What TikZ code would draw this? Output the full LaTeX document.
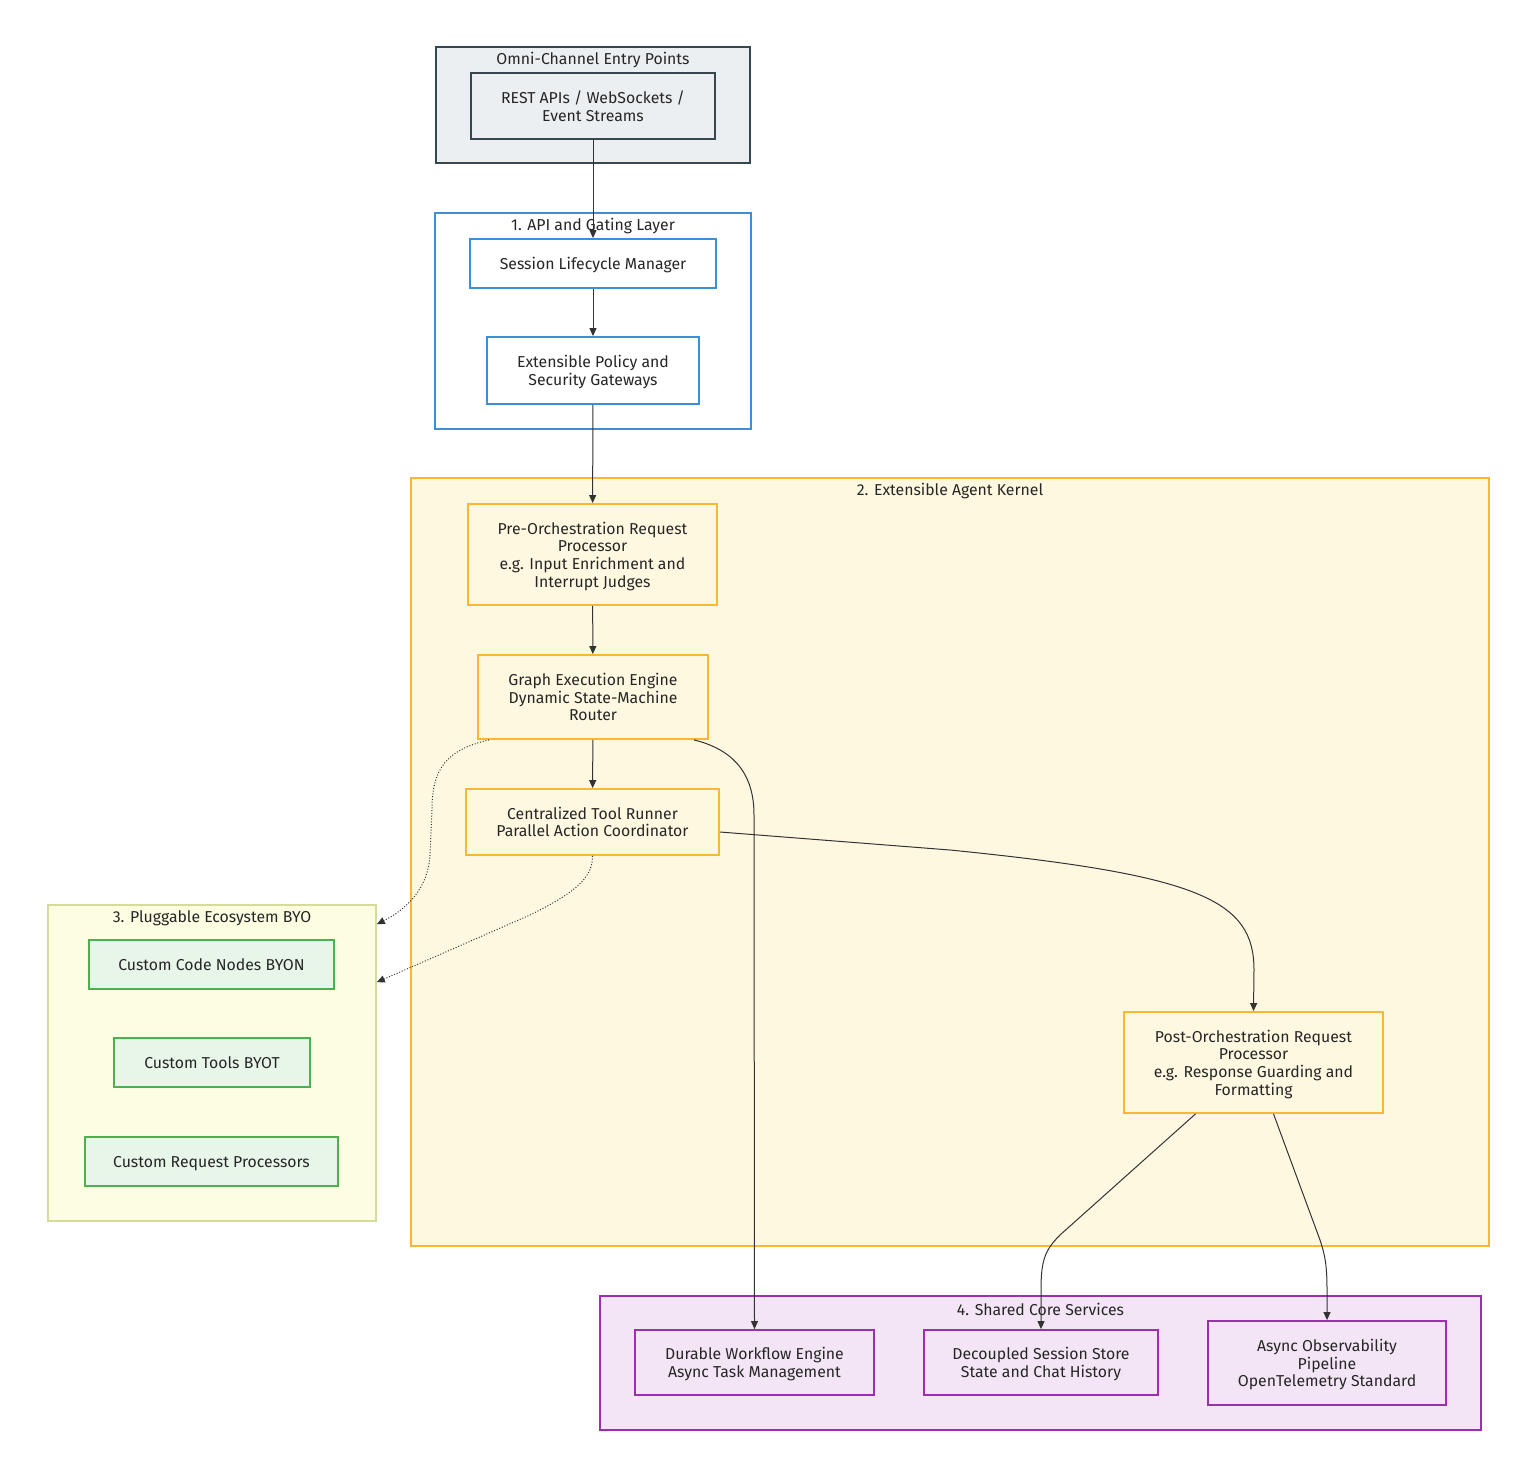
\documentclass[tikz,border=0pt]{standalone}
\usepackage{fontspec}
\setsansfont{Fira Sans}
\usepackage{tikz}
\usetikzlibrary{positioning,arrows.meta,shapes,calc}
\usepackage{xcolor}

\definecolor{edgegray}{HTML}{333333}
\definecolor{entryfill}{HTML}{ECEFF1}
\definecolor{entrydraw}{HTML}{37474F}
\definecolor{gatedraw}{HTML}{3A8FD6}
\definecolor{kernfill}{HTML}{FFF8E1}
\definecolor{kerndraw}{HTML}{F9B833}
\definecolor{byofill}{HTML}{FDFDE1}
\definecolor{byodraw}{HTML}{D6DB9C}
\definecolor{plugfill}{HTML}{E8F5E9}
\definecolor{plugdraw}{HTML}{4CAF50}
\definecolor{corefill}{HTML}{F3E5F5}
\definecolor{coredraw}{HTML}{9C2FAE}

\begin{document}
\begin{tikzpicture}[x=1pt, y=-1pt,
    txt/.style={font=\sffamily\fontsize{15.8}{17.6}\selectfont, text=black!85},
    group/.style={rectangle, line width=1.6pt, inner sep=0pt},
    entrygroup/.style={group, draw=entrydraw, fill=entryfill},
    gategroup/.style={group, draw=gatedraw, fill=white},
    kerngroup/.style={group, draw=kerndraw, fill=kernfill},
    byogroup/.style={group, draw=byodraw, fill=byofill},
    coregroup/.style={group, draw=coredraw, fill=corefill},
    title/.style={txt, inner sep=0pt},
    box/.style={txt, rectangle, line width=1.8pt, align=center, text depth=-2pt},
    entrybox/.style={box, draw=entrydraw, fill=entryfill},
    gatebox/.style={box, draw=gatedraw, fill=white},
    kernbox/.style={box, draw=kerndraw, fill=kernfill},
    plugbox/.style={box, draw=plugdraw, fill=plugfill},
    corebox/.style={box, draw=coredraw, fill=corefill},
    arrow/.style={-{Triangle[length=8pt,width=7pt]}, line width=1pt, edgegray},
    dotarrow/.style={arrow, dash pattern=on 1pt off 1.8pt}
]
    \useasboundingbox (0,0) rectangle (1536,1477);

    % groups
    \node[entrygroup, minimum width=314pt, minimum height=116pt] (omni) at (593,105) {};
    \node[title] (omnititle) at ([yshift=-14pt]omni.north) {Omni-Channel Entry Points};
    \node[gategroup, minimum width=316pt, minimum height=216pt] (gate) at (593,321) {};
    \node[title] (gatetitle) at ([yshift=-14pt]gate.north) {1. API and Gating Layer};
    \node[kerngroup, minimum width=1078pt, minimum height=768pt] (kernel) at (950,862) {};
    \node[title] (kerntitle) at ([yshift=-14pt]kernel.north) {2. Extensible Agent Kernel};
    \node[byogroup, minimum width=328pt, minimum height=316pt] (byo) at (212,1063) {};
    \node[title] (byotitle) at ([yshift=-14pt]byo.north) {3. Pluggable Ecosystem BYO};
    \node[coregroup, minimum width=881pt, minimum height=134pt] (core) at (1040.5,1363) {};
    \node[title] (coretitle) at ([yshift=-14pt]core.north) {4. Shared Core Services};

    % entry and gating
    \node[entrybox, minimum width=244pt, minimum height=66pt] (rest) at (593,106) {REST APIs / WebSockets /\\Event Streams};
    \node[gatebox, minimum width=246pt, minimum height=49pt] (session) at (593,263.5) {Session Lifecycle Manager};
    \node[gatebox, minimum width=212pt, minimum height=67pt] (policy) at (593,370.5) {Extensible Policy and\\Security Gateways};

    % kernel
    \node[kernbox, minimum width=249pt, minimum height=101pt] (pre) at (592.5,554.5) {Pre-Orchestration Request\\Processor\\e.g. Input Enrichment and\\Interrupt Judges};
    \node[kernbox, minimum width=230pt, minimum height=84pt] (graph) at (593,697) {Graph Execution Engine\\Dynamic State-Machine\\Router};
    \node[kernbox, minimum width=253pt, minimum height=66pt] (tool) at (592.5,822) {Centralized Tool Runner\\Parallel Action Coordinator};
    \node[kernbox, minimum width=259pt, minimum height=101pt] (post) at (1253.5,1062.5) {Post-Orchestration Request\\Processor\\e.g. Response Guarding and\\Formatting};

    % pluggable
    \node[plugbox, minimum width=245pt, minimum height=49pt] (byon) at (211.5,964.5) {Custom Code Nodes BYON};
    \node[plugbox, minimum width=196pt, minimum height=49pt] (byot) at (212,1062.5) {Custom Tools BYOT};
    \node[plugbox, minimum width=253pt, minimum height=49pt] (crp) at (211.5,1161.5) {Custom Request Processors};

    % core services
    \node[corebox, minimum width=239pt, minimum height=65pt] (durable) at (754.5,1362.5) {Durable Workflow Engine\\Async Task Management};
    \node[corebox, minimum width=234pt, minimum height=65pt] (store) at (1041,1362.5) {Decoupled Session Store\\State and Chat History};
    \node[corebox, minimum width=238pt, minimum height=84pt] (observe) at (1327,1363) {Async Observability\\Pipeline\\OpenTelemetry Standard};

    % edges
    \draw[arrow] (rest) -- (session);
    \draw[arrow] (session) -- (policy);
    \draw[arrow] (policy) -- (pre);
    \draw[arrow] (pre) -- (graph);
    \draw[arrow] (graph) -- (tool);
    \draw[arrow] ([xshift=-15pt]graph.south east) .. controls (735,750) and (754,775) .. (754,815) -- (durable.north);
    \draw[dotarrow] ([xshift=12pt]graph.south west) .. controls (445,750) and (432,770) .. (432,810) -- (430,855) .. controls (428,890) and (405,910) .. ([yshift=-20pt]byo.north east);
    \draw[dotarrow] (tool.south) .. controls (593,880) and (570,895) .. (530,915) -- ([yshift=-78pt]byo.north east);
    \draw[arrow] ([yshift=-10pt]tool.east) -- (950,850) .. controls (1200,875) and (1254,900) .. (1254,970) -- (post.north);
    \draw[arrow] ([xshift=-58pt]post.south) -- (1060,1235) .. controls (1045,1250) and (1041,1260) .. (1041,1290) -- (store.north);
    \draw[arrow] ([xshift=20pt]post.south) -- (1320,1240) .. controls (1325,1255) and (1327,1265) .. (1327,1290) -- (observe.north);
\end{tikzpicture}
\end{document}
